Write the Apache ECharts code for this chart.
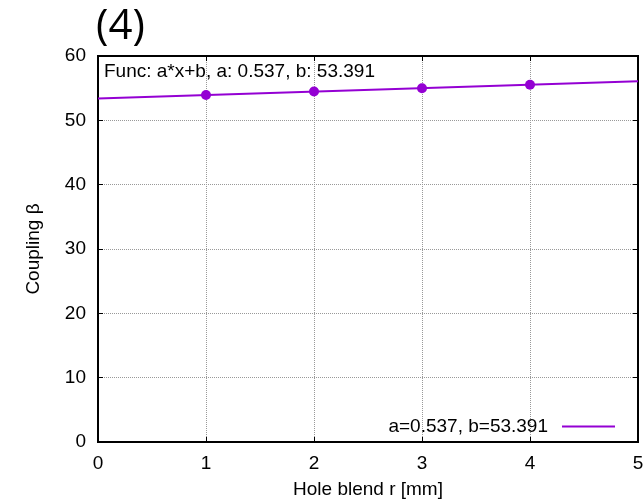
<!DOCTYPE html>
<html>
<head>
<meta charset="utf-8">
<script src="https://cdn.jsdelivr.net/npm/echarts@6/dist/echarts.min.js"></script>
<style>
  html, body { margin: 0; padding: 0; background: #fff; }
  #main { width: 644px; height: 499px; }
</style>
</head>
<body>
<div id="main"></div>
<script>
// measured points (x = hole blend r in mm)
var pointX = [1, 2, 3, 4];
var pointY = [53.93, 54.47, 55.00, 55.54];
// fitted line a*x+b drawn across the axis range
var fitX = [0, 5];
var fitY = [53.391, 56.076];
var fitLabel = 'a=0.537, b=53.391';
var funcText = 'Func: a*x+b, a: 0.537, b: 53.391';

var font = 'Liberation Sans, Arial, sans-serif';
var purple = '#9400d3';

var chart = echarts.init(document.getElementById('main'));

function pairs(xs, ys) {
  return xs.map(function (x, i) { return [x, ys[i]]; });
}

// gnuplot style mirrored ticks on top / right
function mirrorAxis(pos, max, interval) {
  return {
    type: 'value',
    position: pos,
    min: 0,
    max: max,
    interval: interval,
    axisLine: { show: true, onZero: false, lineStyle: { color: '#000', width: 2 } },
    axisTick: { show: true, inside: true, length: 5, lineStyle: { color: '#000' } },
    axisLabel: { show: false },
    splitLine: { show: false }
  };
}

chart.setOption({
  backgroundColor: '#fff',
  animation: false,
  title: [
    {
      text: '(4)',
      left: 91,
      top: 1,
      textStyle: { fontFamily: 'Open Sans, DejaVu Sans, sans-serif', fontSize: 42, fontWeight: 'normal', color: '#000' }
    },
    {
      text: funcText,
      left: 99,
      top: 57,
      textStyle: { fontFamily: font, fontSize: 19, fontWeight: 'normal', color: '#000' }
    }
  ],
  legend: {
    right: 24,
    top: 412,
    align: 'right',
    itemWidth: 53,
    itemHeight: 2,
    data: [{ name: fitLabel, icon: 'rect' }],
    textStyle: { fontFamily: font, fontSize: 19, color: '#000', padding: [0, 9, 0, 0] }
  },
  grid: {
    left: 98,
    right: 6,
    top: 56,
    bottom: 57,
    outerBoundsMode: 'none',
    show: true,
    borderColor: '#000',
    borderWidth: 2,
    backgroundColor: 'rgba(0,0,0,0)'
  },
  xAxis: [
    {
      type: 'value',
      min: 0,
      max: 5,
      interval: 1,
      name: 'Hole blend r [mm]',
      nameLocation: 'middle',
      nameGap: 38,
      nameTextStyle: { fontFamily: font, fontSize: 19, color: '#000' },
      axisLine: { show: true, onZero: false, lineStyle: { color: '#000', width: 2 } },
      axisTick: { show: true, inside: true, length: 5, lineStyle: { color: '#000' } },
      axisLabel: { fontFamily: font, fontSize: 19, color: '#000', margin: 12 },
      splitLine: { show: true, lineStyle: { color: '#999', type: 'dotted', width: 1 } }
    },
    mirrorAxis('top', 5, 1)
  ],
  yAxis: [
    {
      type: 'value',
      min: 0,
      max: 60,
      interval: 10,
      name: 'Coupling β',
      nameLocation: 'middle',
      nameGap: 55,
      nameTextStyle: { fontFamily: font, fontSize: 19, color: '#000' },
      axisLine: { show: true, onZero: false, lineStyle: { color: '#000', width: 2 } },
      axisTick: { show: true, inside: true, length: 5, lineStyle: { color: '#000' } },
      axisLabel: { fontFamily: font, fontSize: 19, color: '#000', margin: 12 },
      splitLine: { show: true, lineStyle: { color: '#999', type: 'dotted', width: 1 } }
    },
    mirrorAxis('right', 60, 10)
  ],
  series: [
    {
      name: fitLabel,
      type: 'line',
      data: pairs(fitX, fitY),
      showSymbol: false,
      lineStyle: { color: purple, width: 2.2 },
      itemStyle: { color: purple },
      z: 3
    },
    {
      name: 'data',
      type: 'line',
      data: pairs(pointX, pointY),
      symbol: 'circle',
      symbolSize: 10,
      lineStyle: { width: 0 },
      itemStyle: { color: purple },
      z: 4
    },
    {
      // empty series so the mirrored axes are bound and drawn
      name: 'mirror',
      type: 'line',
      xAxisIndex: 1,
      yAxisIndex: 1,
      data: []
    }
  ]
});
</script>
</body>
</html>
